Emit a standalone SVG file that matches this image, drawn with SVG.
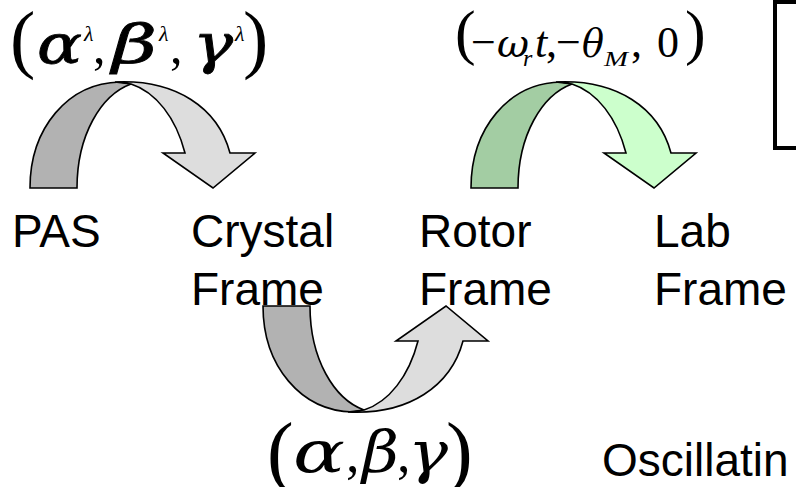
<svg xmlns="http://www.w3.org/2000/svg" width="796" height="487" viewBox="0 0 796 487">
<style>
.lbl{font-family:"Liberation Sans",Arial,sans-serif;font-size:46px;fill:#000}
.m{font-family:"Liberation Serif","Times New Roman",serif;fill:#000}
.gk{font-family:"DejaVu Serif","Liberation Serif",serif;font-style:italic;fill:#000}
.it{font-style:italic}
.emb{stroke:#000;stroke-width:0.8}
.edge{stroke:#000;stroke-width:1.6;stroke-linejoin:miter}
.g1{fill:#b2b2b2}.g2{fill:#dddddd}
.n1{fill:#a3cda3}.n2{fill:#ccffcc}
</style>
<defs>
<path id="back" d="M30,188 C30,128 68,83 120,82 L131,84 C101,95 77,135 77,188 Z"/>
<path id="front" d="M115,82 C176,79 218,108 230,153 L255,153 L213,188 L163,153 L185,153 C176,118 156,92 131,84 Z"/>
</defs>
<g id="connectors">
<g id="arrow-pas-crystal">
<use href="#back" class="g1 edge"/>
<use href="#front" class="g2 edge"/>
</g>
<g id="arrow-rotor-lab" transform="translate(441,0)">
<use href="#back" class="n1 edge"/>
<use href="#front" class="n2 edge"/>
</g>
<g id="arrow-crystal-rotor" transform="translate(233,494) scale(1,-1)">
<use href="#back" class="g1 edge"/>
<use href="#front" class="g2 edge"/>
</g>
</g>
<g id="formula-top-left">
<text class="m" x="10" y="64" font-size="76">(</text>
<text class="gk emb" x="37" y="63" font-size="54" textLength="45" lengthAdjust="spacingAndGlyphs">α</text>
<text class="m it" x="84" y="41" font-size="22">λ</text>
<text class="m" x="93" y="63" font-size="50">,</text>
<text class="gk emb" x="112" y="63" font-size="54" textLength="45" lengthAdjust="spacingAndGlyphs">β</text>
<text class="m it" x="159" y="41" font-size="22">λ</text>
<text class="m" x="170" y="63" font-size="50">,</text>
<text class="gk emb" x="193" y="63" font-size="54" textLength="40" lengthAdjust="spacingAndGlyphs">γ</text>
<text class="m it" x="235" y="41" font-size="22">λ</text>
<text class="m" x="243" y="64" font-size="76">)</text>
</g>
<g id="formula-top-mid">
<text class="m" x="455" y="53" font-size="62">(</text>
<text class="m" x="471" y="57" font-size="44">−</text>
<text class="gk" x="497" y="57" font-size="40" textLength="32" lengthAdjust="spacingAndGlyphs">ω</text>
<text class="m it" x="523" y="66" font-size="24">r</text>
<text class="m it" x="535" y="57" font-size="44">t</text>
<text class="m" x="546" y="57" font-size="44">,</text>
<text class="m" x="556" y="57" font-size="44">−</text>
<text class="gk" x="582" y="57" font-size="40" textLength="22" lengthAdjust="spacingAndGlyphs">θ</text>
<text class="m it" x="604" y="66" font-size="20" textLength="24" lengthAdjust="spacingAndGlyphs">M</text>
<text class="m" x="631" y="57" font-size="44">,</text>
<text class="m" x="657" y="57" font-size="44">0</text>
<text class="m" x="685" y="53" font-size="62">)</text>
</g>
<g id="formula-bottom">
<text class="m" x="267" y="478" font-size="80">(</text>
<text class="gk" x="293" y="472" font-size="58" textLength="52" lengthAdjust="spacingAndGlyphs">α</text>
<text class="m" x="346" y="472" font-size="54">,</text>
<text class="gk" x="362" y="472" font-size="58" textLength="37" lengthAdjust="spacingAndGlyphs">β</text>
<text class="m" x="397" y="472" font-size="54">,</text>
<text class="gk" x="408" y="472" font-size="58" textLength="40" lengthAdjust="spacingAndGlyphs">γ</text>
<text class="m" x="446" y="478" font-size="80">)</text>
</g>
<g id="node-pas"><text class="lbl" x="12" y="247">PAS</text></g>
<g id="node-crystal"><text class="lbl" x="191" y="247">Crystal</text><text class="lbl" x="191" y="305">Frame</text></g>
<g id="node-rotor"><text class="lbl" x="419" y="247">Rotor</text><text class="lbl" x="419" y="305">Frame</text></g>
<g id="node-lab"><text class="lbl" x="654" y="247">Lab</text><text class="lbl" x="654" y="305">Frame</text></g>
<g id="node-oscillating"><text class="lbl" x="602" y="476">Oscillatin</text></g>
<rect id="box" x="775" y="2" width="40" height="146" fill="none" stroke="#000" stroke-width="4"/>
</svg>
